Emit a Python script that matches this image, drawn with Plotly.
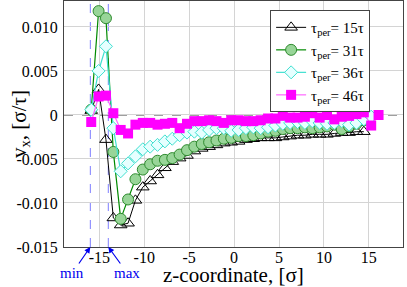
import plotly.graph_objects as go

z = [-15.9, -15.08, -14.26, -13.44, -12.62, -11.8, -10.98, -10.16, -9.34, -8.52,
     -7.7, -6.88, -6.06, -5.24, -4.42, -3.6, -2.78, -1.96, -1.14, -0.32,
     0.5, 1.32, 2.14, 2.96, 3.78, 4.6, 5.42, 6.24, 7.06, 7.88,
     8.7, 9.52, 10.34, 11.16, 11.98, 12.8, 13.62, 14.44, 15.26, 16.08]

v15 = [0.0005, 0.0029, -0.0028, -0.0117, -0.0125, -0.0123, -0.0097, -0.0082, -0.0075, -0.0068,
       -0.0060, -0.0053, -0.0049, -0.0046, -0.0041, -0.0038, -0.0036, -0.0034, -0.0032, -0.0031,
       -0.0030, -0.0028, -0.0027, -0.0026, -0.0026, -0.0026, -0.0025, -0.0024, -0.0023, -0.0023,
       -0.0022, -0.0022, -0.0022, -0.0021, -0.0020, -0.0020, -0.0019, -0.0019]

v31 = [0.0006, 0.0118, 0.0110, -0.0042, -0.0118, -0.0096, -0.0073, -0.0062, -0.0056, -0.0052,
       -0.0051, -0.0049, -0.0045, -0.0040, -0.0036, -0.0033, -0.0031, -0.0029, -0.0027, -0.0026,
       -0.0024, -0.0024, -0.0023, -0.0021, -0.0019, -0.0018, -0.0016, -0.0015, -0.0015, -0.0014,
       -0.0015, -0.0014, -0.0013, -0.0011, -0.0016, -0.0013, -0.0010, -0.0006]

v36 = [0.0006, 0.0050, 0.0078, -0.0015, -0.0064, -0.0055, -0.0047, -0.0039, -0.0036, -0.0034,
       -0.0030, -0.0027, -0.0023, -0.0020, -0.0019, -0.0020, -0.0017, -0.0015, -0.0015, -0.0018,
       -0.0017, -0.0015, -0.0014, -0.0015, -0.0014, -0.0012, -0.0010, -0.0009, -0.0008, -0.0009,
       -0.0007, -0.0009, -0.0010, -0.0009, -0.0007, -0.0011, -0.0009, -0.0005, -0.0002]

v46 = [-0.0008, 0.0021, 0.0022, 0.0002, -0.0017, -0.0021, -0.0011, -0.0009, -0.0009, -0.0011,
       -0.0010, -0.0009, -0.0015, -0.0010, -0.0007, -0.0007, -0.0006, -0.0007, -0.0009, -0.0006,
       -0.0006, -0.0007, -0.0007, -0.0006, -0.0004, -0.0004, -0.0001, -0.0003, -0.0003, -0.0002,
       0.0002, -0.0003, 0.0000, -0.0005, -0.0002, -0.0001, 0.0001, 0.0003, -0.0012, 0.0000]

names = ["τ<sub>per</sub>= 15τ", "τ<sub>per</sub>= 31τ", "τ<sub>per</sub>= 36τ", "τ<sub>per</sub>= 46τ"]

x_ticks = [-15, -10, -5, 0, 5, 10, 15]
y_ticks = [0.010, 0.005, 0.0, -0.005, -0.010, -0.015]
y_ticktext = ["0.010", "0.005", "0", "-0.005", "-0.010", "-0.015"]

min_z = -16
max_z = -14

FONT = "Liberation Serif, Times New Roman, serif"

fig = go.Figure()

fig.add_trace(go.Scatter(
    x=z[:len(v15)], y=v15, name=names[0], mode="lines+markers",
    line=dict(color="black", width=1),
    marker=dict(symbol="triangle-up-open", size=11, color="black", line=dict(width=1)),
))
fig.add_trace(go.Scatter(
    x=z[:len(v31)], y=v31, name=names[1], mode="lines+markers",
    line=dict(color="#008a00", width=1.2),
    marker=dict(symbol="circle", size=11, color="#98d598", line=dict(color="#2e8b2e", width=1)),
))
fig.add_trace(go.Scatter(
    x=z[:len(v36)], y=v36, name=names[2], mode="lines+markers",
    line=dict(color="#40e0d0", width=1.2),
    marker=dict(symbol="diamond", size=10, color="#e6ffff", line=dict(color="#40e0d0", width=1)),
))
fig.add_trace(go.Scatter(
    x=z[:len(v46)], y=v46, name=names[3], mode="lines+markers",
    line=dict(color="#ff66ff", width=1.2),
    marker=dict(symbol="square", size=10, color="#ff00ff", line=dict(width=0)),
))

# reference lines
for zz in (min_z, max_z):
    fig.add_shape(type="line", xref="x", yref="paper", x0=zz, x1=zz, y0=0, y1=1,
                  line=dict(color="#7f7fff", width=1, dash="dash"), layer="below")
fig.add_shape(type="line", xref="paper", yref="y", x0=0, x1=1, y0=0, y1=0,
              line=dict(color="#333333", width=1, dash="dash"), layer="below")

fig.add_annotation(x=min_z, y=-0.015, xref="x", yref="y", text="min", showarrow=True,
                   ax=-18, ay=26, arrowhead=2, arrowsize=1, arrowwidth=1.2, arrowcolor="#0000ee",
                   font=dict(family=FONT, size=15, color="#0000ee"))
fig.add_annotation(x=max_z, y=-0.015, xref="x", yref="y", text="max", showarrow=True,
                   ax=19, ay=26, arrowhead=2, arrowsize=1, arrowwidth=1.2, arrowcolor="#0000ee",
                   font=dict(family=FONT, size=15, color="#0000ee"))

# axis titles
fig.add_annotation(x=0.5, y=0, xref="paper", yref="paper", text="z-coordinate, [σ]",
                   showarrow=False, xanchor="center", yanchor="top", yshift=-14,
                   font=dict(family=FONT, size=21, color="black"))
fig.add_annotation(x=0, y=0.5, xref="paper", yref="paper", text="v<sub>x</sub>, [σ/τ]",
                   showarrow=False, xanchor="center", yanchor="middle", xshift=-44,
                   textangle=-90, font=dict(family=FONT, size=21, color="black"))

fig.update_layout(
    template="none",
    width=407, height=287,
    margin=dict(l=64, r=4, t=1, b=40, autoexpand=False),
    paper_bgcolor="white", plot_bgcolor="white",
    font=dict(family=FONT, size=16, color="black"),
    showlegend=True,
    legend=dict(x=0.608, y=0.963, xanchor="left", yanchor="top",
                bgcolor="white", bordercolor="#444444", borderwidth=1,
                font=dict(family=FONT, size=15), tracegroupgap=0, itemwidth=30),
    xaxis=dict(range=[-18.93, 18.8], tickvals=x_ticks, ticktext=[str(t) for t in x_ticks],
               showgrid=True, gridcolor="#d4d4d4", gridwidth=1, zeroline=False,
               showline=True, linecolor="#444444", linewidth=1, mirror=True, ticks="",
               ticklen=0, automargin=False, ticklabelstandoff=-4,
               tickfont=dict(family=FONT, size=16)),
    yaxis=dict(range=[-0.015, 0.01295], tickvals=y_ticks, ticktext=y_ticktext,
               showgrid=True, gridcolor="#d4d4d4", gridwidth=1, zeroline=False,
               showline=True, linecolor="#444444", linewidth=1, mirror=True, ticks="",
               ticklen=0, automargin=False, ticklabelstandoff=2,
               tickfont=dict(family=FONT, size=16)),
)

fig.write_html("out.html", config={"displayModeBar": False},
               post_script="document.body.style.margin='0';document.body.style.padding='0';")
